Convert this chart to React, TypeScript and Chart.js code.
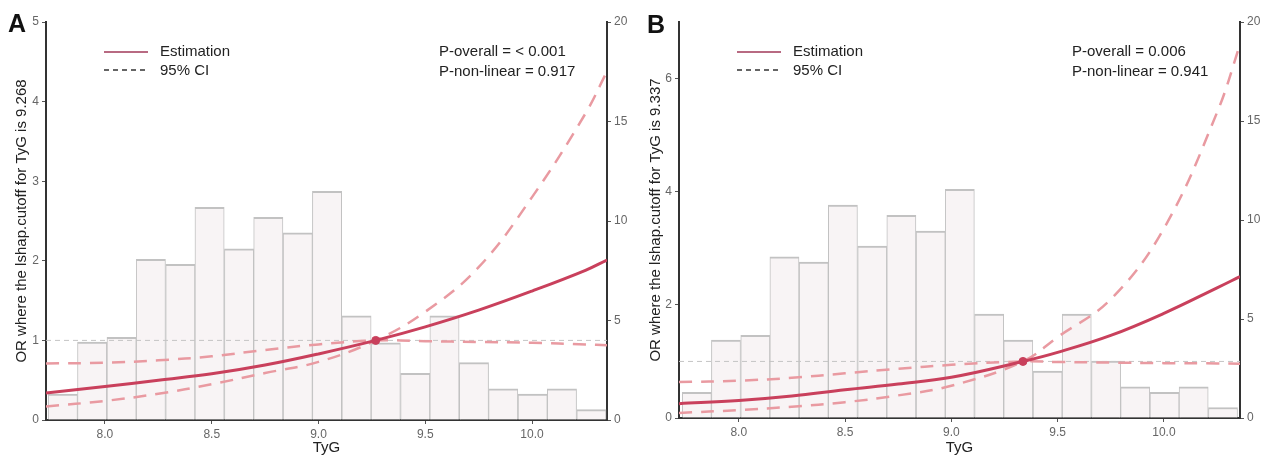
import React, { useEffect, useRef } from "react";
import { Chart, registerables } from "chart.js";

Chart.register(...registerables);

// ---------- data ----------
const binCenters = [7.803, 7.94, 8.078, 8.215, 8.353, 8.49, 8.628, 8.765, 8.903, 9.04, 9.178, 9.315, 9.453, 9.59, 9.728, 9.865, 10.003, 10.14, 10.278];
const histA = [1.3, 3.92, 4.16, 8.08, 7.82, 10.69, 8.6, 10.19, 9.41, 11.49, 5.23, 3.88, 2.34, 5.23, 2.88, 1.57, 1.3, 1.57, 0.52];
const histB = [1.3, 3.94, 4.18, 8.14, 7.87, 10.75, 8.68, 10.24, 9.44, 11.55, 5.25, 3.94, 2.37, 5.25, 2.88, 1.57, 1.3, 1.57, 0.53];

const tygA = [7.724, 8.0, 8.25, 8.5, 8.75, 9.0, 9.268, 9.5, 9.75, 10.0, 10.25, 10.351];
const estA = [0.34, 0.42, 0.5, 0.58, 0.69, 0.83, 1.0, 1.17, 1.38, 1.62, 1.88, 2.01];
const flatCiA = [0.71, 0.72, 0.75, 0.8, 0.88, 0.95, 1.0, 0.99, 0.98, 0.97, 0.95, 0.94];
const steepCiA = [0.17, 0.24, 0.33, 0.45, 0.59, 0.73, 1.0, 1.36, 1.92, 2.8, 3.85, 4.38];
const cutoffA = 9.268;

const tygB = [7.719, 8.0, 8.25, 8.5, 8.75, 9.0, 9.337, 9.5, 9.75, 10.0, 10.25, 10.358];
const estB = [0.254, 0.31, 0.39, 0.5, 0.6, 0.72, 1.0, 1.16, 1.46, 1.85, 2.3, 2.5];
const flatCiB = [0.635, 0.66, 0.71, 0.79, 0.87, 0.94, 1.0, 0.99, 0.98, 0.97, 0.965, 0.96];
const steepCiB = [0.09, 0.14, 0.2, 0.28, 0.4, 0.57, 1.0, 1.43, 2.1, 3.35, 5.4, 6.6];
const cutoffB = 9.337;

const xTicks = [8.0, 8.5, 9.0, 9.5, 10.0];
const yTicksA = [0, 1, 2, 3, 4, 5];
const yTicksB = [0, 2, 4, 6];
const y2Ticks = [0, 5, 10, 15, 20];

const FONT = '"Liberation Sans", Arial, Helvetica, sans-serif';
const EST_COLOR = "#c9405c";
const CI_COLOR = "#e99aa1";

const textPlugin = {
  id: "panelText",
  afterDraw(chart: any, _args: any, o: any) {
    const ctx = chart.ctx as CanvasRenderingContext2D;
    ctx.save();
    ctx.fillStyle = "#111";
    ctx.textBaseline = "alphabetic";
    ctx.textAlign = "left";
    ctx.font = `bold 25px ${FONT}`;
    ctx.fillText(o.letter, o.letterX, o.letterY);

    // legend
    ctx.strokeStyle = "#b86a82";
    ctx.lineWidth = 2;
    ctx.setLineDash([]);
    ctx.beginPath();
    ctx.moveTo(o.legX, 52);
    ctx.lineTo(o.legX + 44, 52);
    ctx.stroke();
    ctx.strokeStyle = "#333";
    ctx.lineWidth = 1.5;
    ctx.setLineDash([5, 4]);
    ctx.beginPath();
    ctx.moveTo(o.legX, 70);
    ctx.lineTo(o.legX + 44, 70);
    ctx.stroke();
    ctx.setLineDash([]);

    ctx.font = `15px ${FONT}`;
    ctx.fillStyle = "#222";
    ctx.textBaseline = "middle";
    ctx.fillText("Estimation", o.legX + 56, 52);
    ctx.fillText("95% CI", o.legX + 56, 71);
    ctx.fillText(o.p1, o.pX, 52);
    ctx.fillText(o.p2, o.pX, 72);
    ctx.restore();
  },
};

type PanelCfg = {
  left: number;
  width: number;
  tyg: number[];
  est: number[];
  flat: number[];
  steep: number[];
  hist: number[];
  cutoff: number;
  yMax: number;
  yTicks: number[];
  xMin: number;
  xMax: number;
  yAxisW: number;
  y2AxisW: number;
  xAxisH: number;
  title: string;
  letter: string;
  letterX: number;
  letterY: number;
  legX: number;
  pX: number;
  p1: string;
  p2: string;
};

function Panel({ cfg }: { cfg: PanelCfg }) {
  const ref = useRef<HTMLCanvasElement | null>(null);
  useEffect(() => {
    if (!ref.current) return;
    const toXY = (xs: number[], ys: number[]) => xs.map((x, i) => ({ x, y: ys[i] }));
    const tickFont = { family: FONT, size: 12 };
    const chart = new Chart(ref.current, {
      type: "line",
      data: {
        datasets: [
          {
            type: "line",
            data: [
              { x: cfg.xMin, y: 1 },
              { x: cfg.xMax, y: 1 },
            ],
            borderColor: "#c4c4c4",
            borderWidth: 1,
            borderDash: [5, 4],
            pointRadius: 0,
            yAxisID: "y",
            order: 5,
          },
          {
            type: "line",
            data: toXY(cfg.tyg, cfg.flat),
            borderColor: CI_COLOR,
            borderWidth: 2.5,
            borderDash: [13, 9],
            pointRadius: 0,
            tension: 0.4,
            yAxisID: "y",
            order: 3,
          },
          {
            type: "line",
            data: toXY(cfg.tyg, cfg.steep),
            borderColor: CI_COLOR,
            borderWidth: 2.5,
            borderDash: [13, 9],
            pointRadius: 0,
            tension: 0.4,
            yAxisID: "y",
            order: 3,
          },
          {
            type: "line",
            data: toXY(cfg.tyg, cfg.est),
            borderColor: EST_COLOR,
            borderWidth: 3,
            pointRadius: 0,
            tension: 0.4,
            yAxisID: "y",
            order: 2,
          },
          {
            type: "line",
            data: [{ x: cfg.cutoff, y: 1 }],
            showLine: false,
            pointRadius: 4,
            pointBackgroundColor: EST_COLOR,
            pointBorderColor: EST_COLOR,
            yAxisID: "y",
            order: 1,
          },
          {
            type: "bar",
            data: toXY(binCenters, cfg.hist),
            backgroundColor: "#f8f4f5",
            borderColor: "#c2c2c2",
            borderWidth: { top: 2, left: 1, right: 1, bottom: 0 },
            borderSkipped: false,
            barPercentage: 1,
            categoryPercentage: 1,
            yAxisID: "y2",
            order: 10,
          } as any,
        ],
      },
      options: {
        animation: false,
        responsive: false,
        events: [],
        layout: { padding: { top: 22, left: 0, right: 0, bottom: 0 } },
        plugins: {
          legend: { display: false },
          tooltip: { enabled: false },
          panelText: {
            letter: cfg.letter,
            letterX: cfg.letterX,
            letterY: cfg.letterY,
            legX: cfg.legX,
            pX: cfg.pX,
            p1: cfg.p1,
            p2: cfg.p2,
          },
        } as any,
        scales: {
          x: {
            type: "linear",
            min: cfg.xMin,
            max: cfg.xMax,
            offset: false,
            afterBuildTicks: (s: any) => {
              s.ticks = xTicks.map((v) => ({ value: v }));
            },
            afterFit: (s: any) => {
              s.height = cfg.xAxisH;
            },
            grid: { display: true, drawOnChartArea: false, drawTicks: true, tickLength: 4, color: "#555", offset: false },
            border: { display: true, color: "#333", width: 2 },
            ticks: {
              color: "#666",
              font: tickFont,
              padding: 3,
              maxRotation: 0,
              autoSkip: false,
              callback: (v: any) => Number(v).toFixed(1),
            },
            title: { display: true, text: "TyG", color: "#222", font: { family: FONT, size: 15 }, padding: { top: 0, bottom: 3 } },
          },
          y: {
            type: "linear",
            position: "left",
            min: 0,
            max: cfg.yMax,
            afterBuildTicks: (s: any) => {
              s.ticks = cfg.yTicks.map((v) => ({ value: v }));
            },
            afterFit: (s: any) => {
              s.width = cfg.yAxisW;
            },
            grid: { display: true, drawOnChartArea: false, drawTicks: true, tickLength: 4, color: "#555" },
            border: { display: true, color: "#333", width: 2 },
            ticks: { color: "#666", font: tickFont, padding: 3, autoSkip: false },
            title: { display: true, text: cfg.title, color: "#222", font: { family: FONT, size: 15 }, padding: { top: 13, bottom: 0 } },
          },
          y2: {
            type: "linear",
            position: "right",
            min: 0,
            max: 20,
            afterBuildTicks: (s: any) => {
              s.ticks = y2Ticks.map((v) => ({ value: v }));
            },
            afterFit: (s: any) => {
              s.width = cfg.y2AxisW;
            },
            grid: { display: true, drawOnChartArea: false, drawTicks: true, tickLength: 4, color: "#555" },
            border: { display: true, color: "#333", width: 2 },
            ticks: { color: "#666", font: tickFont, padding: 3, autoSkip: false },
          },
        },
      } as any,
      plugins: [textPlugin as any],
    });
    return () => chart.destroy();
  }, [cfg]);
  return (
    <canvas
      ref={ref}
      width={cfg.width}
      height={460}
      style={{ position: "absolute", left: cfg.left, top: 0, width: cfg.width, height: 460 }}
    />
  );
}

const panelA: PanelCfg = {
  left: 0,
  width: 634,
  tyg: tygA,
  est: estA,
  flat: flatCiA,
  steep: steepCiA,
  hist: histA,
  cutoff: cutoffA,
  yMax: 5,
  yTicks: yTicksA,
  xMin: 7.724,
  xMax: 10.351,
  yAxisW: 46,
  y2AxisW: 27,
  xAxisH: 40,
  title: "OR where the lshap.cutoff for TyG is 9.268",
  letter: "A",
  letterX: 8,
  letterY: 32,
  legX: 104,
  pX: 439,
  p1: "P-overall = < 0.001",
  p2: "P-non-linear = 0.917",
};

const panelB: PanelCfg = {
  left: 634,
  width: 635,
  tyg: tygB,
  est: estB,
  flat: flatCiB,
  steep: steepCiB,
  hist: histB,
  cutoff: cutoffB,
  yMax: 7,
  yTicks: yTicksB,
  xMin: 7.719,
  xMax: 10.358,
  yAxisW: 45,
  y2AxisW: 29,
  xAxisH: 42,
  title: "OR where the lshap.cutoff for TyG is 9.337",
  letter: "B",
  letterX: 13,
  letterY: 33,
  legX: 103,
  pX: 438,
  p1: "P-overall = 0.006",
  p2: "P-non-linear = 0.941",
};

export default function App() {
  return (
    <div style={{ position: "absolute", left: 0, top: 0, width: 1269, height: 460, background: "#fff", overflow: "hidden" }}>
      <Panel cfg={panelA} />
      <Panel cfg={panelB} />
    </div>
  );
}
